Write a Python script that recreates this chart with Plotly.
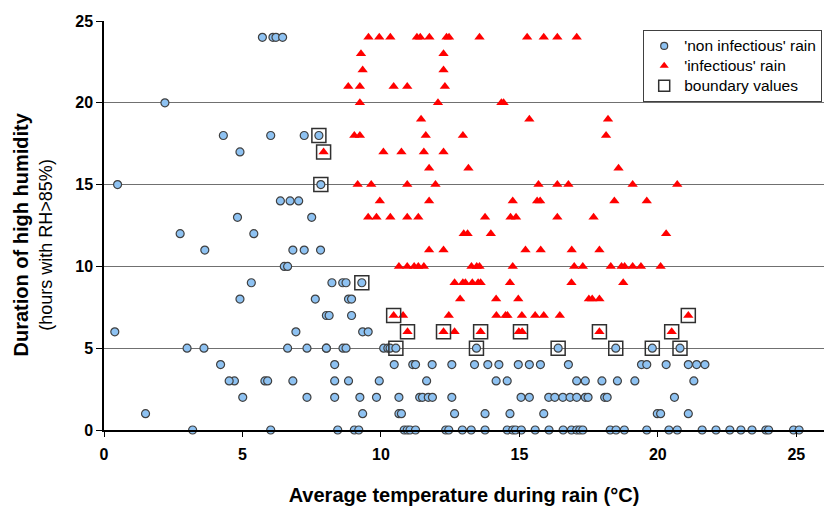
import plotly.graph_objects as go

# ---- data: 'non infectious' rain (temperature, hours) ----
non_inf_temp = [
    5.72, 6.10, 6.21, 6.45,
    2.2,
    4.31, 6.02, 7.23, 7.76,
    4.91,
    0.49, 7.83,
    6.37, 6.72, 7.03,
    4.82, 7.50,
    2.75, 5.41,
    3.64, 6.82, 7.23, 7.82,
    6.51, 6.63,
    5.32, 8.23, 8.62, 8.74, 9.31,
    4.91, 7.63, 8.83, 8.94,
    8.03, 8.13, 8.94,
    0.39, 6.93, 9.34, 9.54,
    3.00, 3.61, 6.63, 7.33, 8.03, 8.63, 8.74, 10.10, 10.25, 10.33, 10.54, 13.45, 16.40, 18.48, 19.80, 20.80,
    8.03, 8.33, 10.48, 11.15, 11.25, 11.85, 12.56, 13.38, 13.86, 14.26, 14.96, 15.36, 15.76, 16.77, 19.41, 19.60, 20.30, 21.10, 21.40, 21.70,
    4.21, 4.71, 5.81, 5.91, 6.82, 8.33, 8.83, 9.94, 11.65, 14.16, 14.56, 17.07, 17.38, 17.98, 18.54, 19.17, 21.30,
    4.52, 5.01, 7.33, 9.24, 9.84, 10.65, 11.40, 11.50, 11.71, 11.86, 12.56, 15.06, 15.36, 16.06, 16.28, 16.57, 16.83, 17.07, 17.38, 17.48, 18.08, 18.17, 20.60,
    8.33, 9.34, 10.65, 10.74, 12.66, 13.76, 14.66, 15.88, 19.98, 20.10, 21.10,
    1.50, 3.20, 6.02, 8.44, 9.04, 9.20, 10.84, 10.95, 11.05, 11.25, 12.34, 12.45, 12.94, 13.26, 13.76, 14.56, 14.76, 14.86, 15.07, 15.57, 16.07, 16.58, 16.88, 17.07, 17.18, 17.29, 18.28, 18.49, 18.79, 19.60, 20.40, 20.70, 21.60, 22.10, 22.60, 23.00, 23.40, 23.90, 24.00, 24.90, 25.10,
]
non_inf_hours = (
    [24] * 4 + [20] + [18] * 4 + [17] + [15] * 2 + [14] * 3 + [13] * 2 + [12] * 2 + [11] * 4 + [10] * 2
    + [9] * 5 + [8] * 4 + [7] * 3 + [6] * 4 + [5] * 17 + [4] * 20 + [3] * 17 + [2] * 23 + [1] * 11 + [0] * 41
)

# ---- data: 'infectious' rain (temperature, hours) ----
inf_temp = [
    9.55, 9.94, 10.34, 11.30, 11.42, 11.75, 12.37, 12.46, 13.56, 15.28, 15.88, 16.37, 17.07,
    9.28, 12.26,
    9.34, 12.26,
    8.82, 9.24, 10.46, 10.95, 12.31,
    9.24, 12.06, 14.35, 14.43,
    11.45, 15.36, 18.20,
    9.04, 9.24, 11.62, 12.96, 18.13,
    7.93, 10.09, 10.74, 11.55, 12.26,
    11.74, 13.16, 18.58,
    9.16, 9.65, 10.95, 11.97, 15.69, 16.37, 16.77, 19.09, 20.70,
    9.96, 11.74, 14.76, 15.64, 15.75, 18.43, 19.60,
    9.54, 9.84, 10.34, 10.95, 11.35, 13.76, 14.68, 14.88, 16.37, 17.68,
    12.99, 13.13, 13.97, 20.30,
    11.74, 12.26, 15.22, 15.77, 16.89, 17.89,
    10.65, 10.95, 11.20, 11.35, 11.55, 13.27, 13.46, 13.56, 14.76, 16.98, 17.29, 18.30, 18.69, 18.80, 19.09, 19.39, 20.10,
    12.66, 12.96, 13.05, 13.30, 13.51, 13.60, 14.66, 16.88, 18.75,
    12.86, 14.16, 14.96, 17.51, 17.63, 17.89,
    10.46, 10.80, 12.45, 14.17, 14.50, 14.57, 15.09, 15.57, 15.88, 16.46, 21.10,
    10.96, 12.26, 12.66, 13.60, 14.98, 15.10, 17.89, 20.50,
]
inf_hours = (
    [24] * 13 + [23] * 2 + [22] * 2 + [21] * 5 + [20] * 4 + [19] * 3 + [18] * 5 + [17] * 5 + [16] * 3
    + [15] * 9 + [14] * 7 + [13] * 10 + [12] * 4 + [11] * 6 + [10] * 17 + [9] * 9 + [8] * 6 + [7] * 11 + [6] * 8
)

# ---- data: boundary values ----
bound_temp = [7.76, 7.83, 9.31, 10.54, 13.45, 16.40, 18.48, 19.80, 20.80,
              7.93, 10.46, 10.96, 12.26, 13.60, 15.04, 17.89, 20.50, 21.10]
bound_hours = [18, 15, 9, 5, 5, 5, 5, 5, 5,
               17, 7, 6, 6, 6, 6, 6, 6, 7]

x_ticks = [0, 5, 10, 15, 20, 25]
y_ticks = [0, 5, 10, 15, 20, 25]

series_names = ["'non infectious' rain", "'infectious' rain", "boundary values"]

CIRCLE = dict(symbol="circle", color="#8EC2F2", line=dict(color="#404040", width=1.2))
TRIANGLE = dict(symbol="triangle-up", color="#FF0000", line=dict(width=0))
SQUARE = dict(symbol="square-open", color="#303030", line=dict(width=1.5))

fig = go.Figure()

# data traces
fig.add_trace(go.Scatter(x=non_inf_temp, y=non_inf_hours, mode="markers", name=series_names[0],
                         marker=dict(size=8, **CIRCLE), cliponaxis=False, showlegend=False,
                         legendgroup="a"))
fig.add_trace(go.Scatter(x=inf_temp, y=inf_hours, mode="markers", name=series_names[1],
                         marker=dict(size=9, **TRIANGLE), cliponaxis=False, showlegend=False,
                         legendgroup="b"))
fig.add_trace(go.Scatter(x=bound_temp, y=bound_hours, mode="markers", name=series_names[2],
                         marker=dict(size=14, **SQUARE), cliponaxis=False, showlegend=False,
                         legendgroup="c"))

# legend entries (smaller legend symbols, as in the reference)
for nm, mk, sz, grp in [(series_names[0], CIRCLE, 7, "a"),
                        (series_names[1], TRIANGLE, 8, "b"),
                        (series_names[2], SQUARE, 11, "c")]:
    fig.add_trace(go.Scatter(x=[None], y=[None], mode="markers",
                             name="<span style='font-size:15.5px'>" + nm + "</span>",
                             marker=dict(size=sz, **mk), legendgroup=grp, showlegend=True))

font_family = "Liberation Sans, Arial, sans-serif"

fig.update_layout(
    width=824, height=509,
    margin=dict(l=104, r=0, t=21, b=79, autoexpand=False),
    paper_bgcolor="white", plot_bgcolor="white",
    font=dict(family=font_family, color="black"),
    showlegend=True,
    legend=dict(
        x=0.9975, y=0.978, xanchor="right", yanchor="top",
        bordercolor="#404040", borderwidth=1, bgcolor="white",
        font=dict(size=13, family=font_family, color="black"),
        tracegroupgap=0, itemsizing="trace", itemwidth=30,
    ),
    xaxis=dict(
        range=[0, 26], tickvals=x_ticks, ticktext=[str(v) for v in x_ticks],
        showgrid=False, zeroline=False, automargin=False,
        showline=True, linecolor="black", linewidth=1.5,
        ticks="outside", ticklen=5, tickcolor="black", ticklabelstandoff=4,
        tickfont=dict(size=16, family=font_family, color="black", weight="bold"),
        title=dict(text="<b>Average temperature during rain (°C)</b>",
                   font=dict(size=20, family=font_family), standoff=26),
    ),
    yaxis=dict(
        range=[0, 25], tickvals=y_ticks, ticktext=[str(v) for v in y_ticks],
        showgrid=True, gridcolor="#707070", gridwidth=1.2,
        zeroline=False, automargin=False,
        showline=True, linecolor="black", linewidth=1.5,
        ticks="outside", ticklen=6, tickcolor="black",
        tickfont=dict(size=16, family=font_family, color="black", weight="bold"),
    ),
)

fig.add_annotation(
    xref="paper", yref="paper", x=-0.1139, y=0.478, xanchor="center", yanchor="middle",
    text="<b>Duration of high humidity</b>",
    textangle=-90, showarrow=False, font=dict(size=20, family=font_family, color="black"),
)
fig.add_annotation(
    xref="paper", yref="paper", x=-0.0806, y=0.453, xanchor="center", yanchor="middle",
    text="(hours with RH>85%)",
    textangle=-90, showarrow=False, font=dict(size=18, family=font_family, color="black"),
)

fig.write_html("out.html", config={"displayModeBar": False},
               post_script="document.body.style.margin='0';document.body.style.overflow='hidden';")
